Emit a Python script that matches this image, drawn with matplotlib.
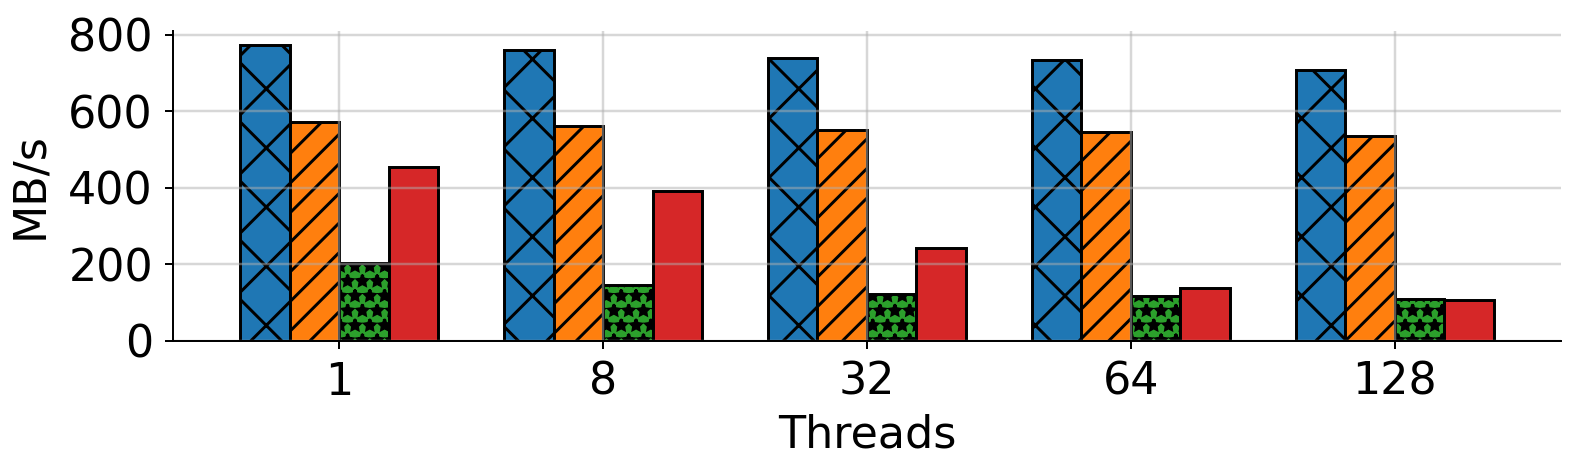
import matplotlib
matplotlib.use("Agg")
import matplotlib.pyplot as plt
import numpy as np

# Data (MB/s)
threads = ["1", "8", "32", "64", "128"]
series_a = [774, 759, 738, 733, 708]
series_b = [572, 562, 551, 546, 535]
series_c = [204, 146, 122, 117, 108]
series_d = [455, 391, 243, 138, 106]

colors = ["#1f77b4", "#ff7f0e", "#2ca02c", "#d62728"]
hatches = ["xx", "////", "****", ""]

DPI = 355
plt.rcParams["font.size"] = 9
plt.rcParams["hatch.linewidth"] = 0.6
plt.rcParams["axes.linewidth"] = 0.4

fig = plt.figure(figsize=(1578 / DPI, 473 / DPI), dpi=DPI)
ax = fig.add_axes([0.1098, 0.2797, 0.8794, 0.6553])

x = np.arange(len(threads))
width = 0.1875
for i, vals in enumerate([series_a, series_b, series_c, series_d]):
    ax.bar(x + (i - 1.5) * width, vals, width, color=colors[i],
           edgecolor="black", linewidth=0.6, hatch=hatches[i])

ax.set_xticks(x)
ax.set_xticklabels(threads)
ax.set_xlim(-0.628, 4.629)
ax.set_ylim(0, 810)
ax.set_yticks([0, 200, 400, 600, 800])
ax.set_xlabel("Threads", labelpad=2)
ax.set_ylabel("MB/s", labelpad=3.5)

ax.spines["top"].set_visible(False)
ax.spines["right"].set_visible(False)
ax.tick_params(length=1.6, width=0.4, pad=2.5)
ax.grid(True, color="#b0b0b0", alpha=0.5, linewidth=0.5)

fig.savefig("out.png", dpi=DPI)
